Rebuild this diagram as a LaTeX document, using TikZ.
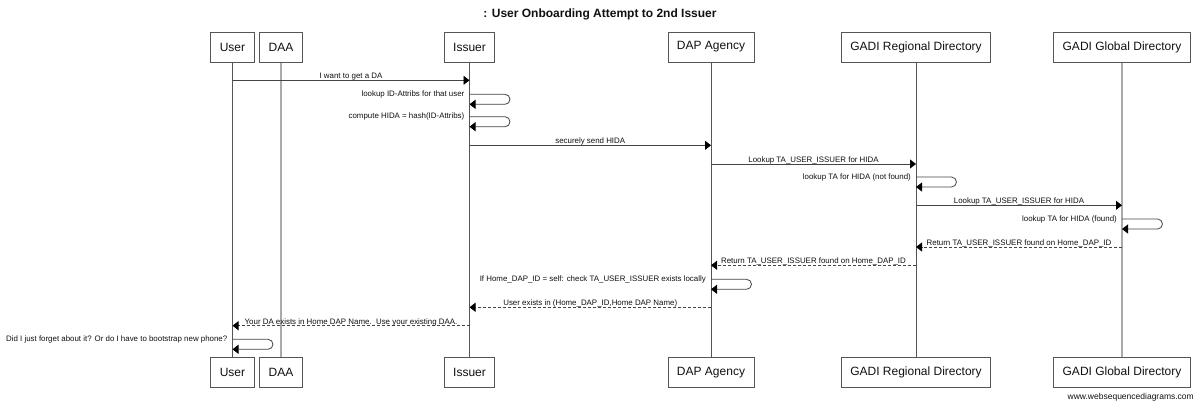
\documentclass[tikz,border=0pt]{standalone}
\usepackage{fontspec}
\setmainfont{Liberation Sans}
\usetikzlibrary{arrows.meta}
\definecolor{boxc}{HTML}{555555}
\definecolor{linec}{HTML}{555555}
\definecolor{lightc}{HTML}{AAAAAA}
\definecolor{msgc}{HTML}{444444}
\definecolor{txt}{HTML}{111111}
\newcommand\seqmsg[5]{\draw[#1] (#2 |- 0,#4) -- node[lbl,midway,yshift=1.5pt]{#5} (#3 |- 0,#4);}
\newcommand\seqself[3]{%
  \draw[msg,rounded corners=5pt] (#1 |- 0,#2) -- ++(40.5,0) -- ++(0,10) -- ++(-40.5,0);
  \path (#1 |- 0,#2) ++(-5,2) node[slbl]{#3};}
\begin{document}
\begin{tikzpicture}[x=1pt,y=-1pt,
  part/.style={draw=boxc, line width=0.8pt, fill=white, minimum height=30pt, inner xsep=9pt, inner ysep=0pt, font=\fontsize{12}{14}\selectfont, text=txt},
  life/.style={draw=linec, line width=0.8pt},
  lifelt/.style={draw=lightc, line width=1.4pt},
  msg/.style={draw=msgc, line width=0.8pt, -{Triangle[length=6pt,width=9pt,color=black]}},
  ret/.style={msg, dash pattern=on 3pt off 2pt},
  lbl/.style={font=\fontsize{7.9}{9}\selectfont, text=txt, anchor=base, inner sep=0pt},
  slbl/.style={font=\fontsize{7.9}{9}\selectfont, text=txt, anchor=base east, inner sep=0pt}]
\useasboundingbox (0,0) rectangle (1200,408);
\fill[white] (0,0) rectangle (1200,408);
\node[font=\bfseries\fontsize{12}{14}\selectfont, text=txt] (title) at (600,14) {: User Onboarding Attempt to 2nd Issuer};
% lifelines
\coordinate (uL) at (232.5,47);
\coordinate (dL) at (281,47);
\coordinate (iL) at (469.5,47);
\coordinate (aL) at (711,47);
\coordinate (rL) at (916,47);
\coordinate (gL) at (1122,47);
\draw[life] (uL) -- (uL |- 0,372);
\draw[lifelt] (dL) -- (dL |- 0,372);
\draw[life] (iL) -- (iL |- 0,372);
\draw[life] (aL) -- (aL |- 0,372);
\draw[life] (rL) -- (rL |- 0,372);
\draw[lifelt] (gL) -- (gL |- 0,372);
% participants
\node[part] (uT) at (232.5,47) {User};
\node[part] (dT) at (281,47) {DAA};
\node[part] (iT) at (469.5,47) {Issuer};
\node[part] (aT) at (711,47) {DAP Agency};
\node[part] (rT) at (916,47) {GADI Regional Directory};
\node[part] (gT) at (1122,47) {GADI Global Directory};
\node[part] (uB) at (232.5,372.3) {User};
\node[part] (dB) at (281,372.3) {DAA};
\node[part] (iB) at (469.5,372.3) {Issuer};
\node[part] (aB) at (711,372.3) {DAP Agency};
\node[part] (rB) at (916,372.3) {GADI Regional Directory};
\node[part] (gB) at (1122,372.3) {GADI Global Directory};
% messages
\seqmsg{msg}{uT}{iT}{80.3}{I want to get a DA}
\seqself{iT}{94.3}{lookup ID-Attribs for that user}
\seqself{iT}{116.7}{compute HIDA = hash(ID-Attribs)}
\seqmsg{msg}{iT}{aT}{145.3}{securely send HIDA}
\seqmsg{msg}{aT}{rT}{164}{Lookup TA\_USER\_ISSUER for HIDA}
\seqself{rT}{177}{lookup TA for HIDA (not found)}
\seqmsg{msg}{rT}{gT}{205.3}{Lookup TA\_USER\_ISSUER for HIDA}
\seqself{gT}{219}{lookup TA for HIDA (found)}
\seqmsg{ret}{gT}{rT}{247}{Return TA\_USER\_ISSUER found on Home\_DAP\_ID}
\seqmsg{ret}{rT}{aT}{265.3}{Return TA\_USER\_ISSUER found on Home\_DAP\_ID}
\seqself{aT}{279.3}{If Home\_DAP\_ID = self: check TA\_USER\_ISSUER exists locally}
\seqmsg{ret}{aT}{iT}{307.3}{User exists in (Home\_DAP\_ID,Home DAP Name)}
\seqmsg{ret}{iT}{uT}{325.7}{Your DA exists in Home DAP Name.\ \ Use your existing DAA.}
\seqself{uT}{339.3}{Did I just forget about it? Or do I have to bootstrap new phone?}
\node[font=\fontsize{8.5}{10}\selectfont, text=txt, anchor=east, inner sep=0pt] (wsd) at (1194,397) {www.websequencediagrams.com};
\end{tikzpicture}
\end{document}
